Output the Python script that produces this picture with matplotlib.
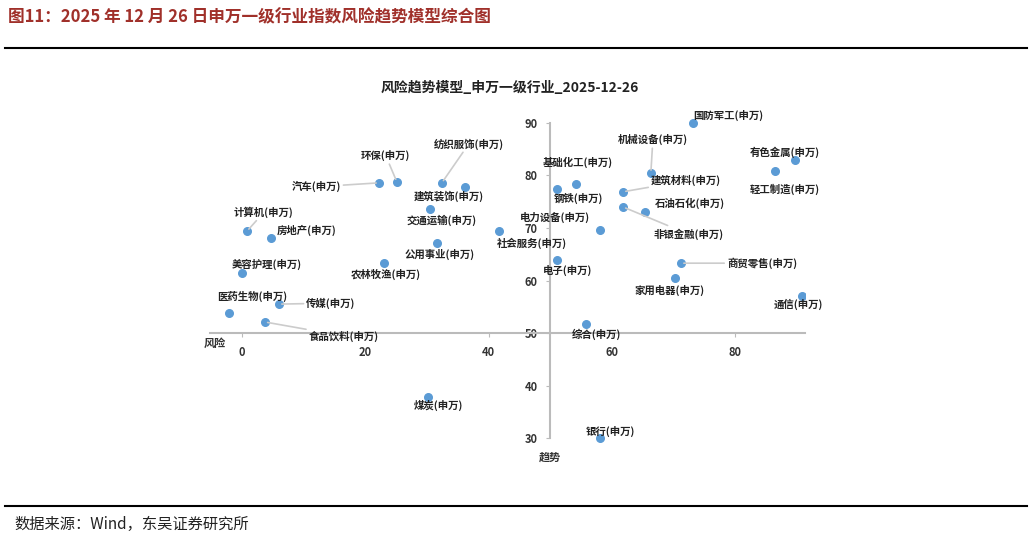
import matplotlib
matplotlib.use("Agg")
import matplotlib.pyplot as plt

plt.rcParams['font.family'] = ['Noto Sans CJK SC', 'DejaVu Sans']

names = ["国防军工","有色金属","轻工制造","机械设备","建筑材料","石油石化","非银金融","基础化工","钢铁","电力设备",
         "电子","商贸零售","家用电器","通信","综合","银行","煤炭","社会服务","公用事业","农林牧渔",
         "交通运输","建筑装饰","纺织服饰","环保","汽车","计算机","房地产","美容护理","医药生物","传媒","食品饮料"]
risk = [73.2,89.7,86.5,66.3,61.8,65.4,61.8,54.2,51.1,58.1,
        51.1,71.2,70.2,90.8,55.8,58.1,30.2,41.7,31.6,23.0,
        30.5,36.2,32.4,25.1,22.2,0.8,4.7,0.0,-2.1,6.0,3.7]
trend = [90.0,83.0,80.9,80.5,76.9,73.0,74.0,78.4,77.4,69.6,
         63.9,63.3,60.5,57.0,51.7,30.0,37.8,69.4,67.1,63.3,
         73.6,77.8,78.6,78.8,78.6,69.4,68.1,61.4,53.8,55.5,52.1]
# label offsets in pixels (dx, dy up), and whether to draw leader line
offs = [(35,8,0),(-10,7,0),(9,-19,0),(2,33,1),(63,11,1),(45,9,0),(65,-27,1),(2,22,0),(21,-9,0),(-45,13,0),
        (10,-10,0),(81,0,1),(-5,-13,0),(-4,-8,0),(10,-10,0),(10,7,0),(10,-8,0),(33,-12,0),(3,-11,0),(2,-11,0),
        (11,-11,0),(-16,-9,0),(27,39,1),(-11,26,1),(-63,-4,1),(17,19,1),(36,8,0),(25,9,0),(23,17,0),(52,1,1),(79,-14,1)]

fig = plt.figure(figsize=(10.32,5.4), dpi=100)
W,H = 1032,540
ax = fig.add_axes([210/W, 1-445/H, 595/W, 327/H])
ax.set_xlim(-5.2,91.3)
ax.set_ylim(28.67,90.95)
ax.scatter(risk, trend, s=30, color='#5B9BD5', zorder=3)
for n,x,y,(dx,dy,ln) in zip(names,risk,trend,offs):
    ax.annotate(n+"(申万)", (x,y), xytext=(dx,dy), textcoords='offset pixels',
                ha='center', va='center', fontsize=7.5, fontweight='bold', color='#222222',
                arrowprops=dict(arrowstyle='-', color='#cccccc', lw=1.2, shrinkA=0, shrinkB=2) if ln else None)
for s in ['top','right']:
    ax.spines[s].set_visible(False)
ax.spines['left'].set_position(('data',50))
ax.spines['bottom'].set_position(('data',50))
ax.spines['left'].set_bounds(30,90)
ax.spines['bottom'].set_bounds(-5.2,91.3)
for s in ['left','bottom']:
    ax.spines[s].set_color('#bbbbbb')
    ax.spines[s].set_linewidth(1.5)
ax.set_xticks([0,20,40,60,80])
ax.set_yticks([30,40,50,60,70,80,90])
ax.tick_params(length=3, color='#bbbbbb', labelsize=8, pad=6)
for t in ax.get_xticklabels()+ax.get_yticklabels():
    t.set_fontweight('bold'); t.set_color('#333333')
ax.text(-4.5,49.2,"风险",ha='center',va='top',fontsize=8,fontweight='bold',color='#333')
ax.text(50,27.5,"趋势",ha='center',va='top',fontsize=8,fontweight='bold',color='#333')
fig.text(510/W,1-88/H,"风险趋势模型_申万一级行业_2025-12-26",ha='center',va='center',fontsize=10,fontweight='bold',color='#222')
fig.text(8/W,1-17/H,"图11：2025 年 12 月 26 日申万一级行业指数风险趋势模型综合图",ha='left',va='center',fontsize=12,fontweight='bold',color='#A0302A')
fig.text(14/W,1-524/H,"数据来源：Wind，东吴证券研究所",ha='left',va='center',fontsize=11,color='#222')
fig.add_artist(plt.Line2D([5/W,1027/W],[1-48/H,1-48/H],color='black',lw=1.5))
fig.add_artist(plt.Line2D([5/W,1027/W],[1-506/H,1-506/H],color='black',lw=1.5))
fig.savefig("out.png", dpi=100)
